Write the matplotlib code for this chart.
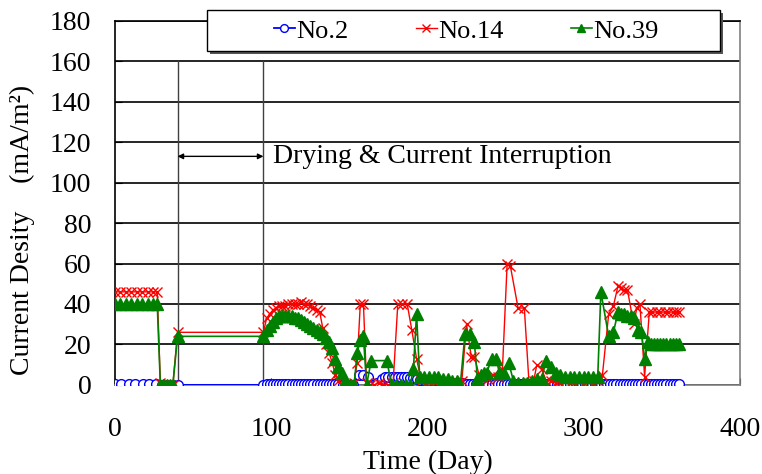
import matplotlib
matplotlib.use('Agg')
import matplotlib.pyplot as plt
from matplotlib.patches import Rectangle

plt.rcParams['font.family'] = ['Liberation Serif', 'Noto Sans CJK JP', 'DejaVu Serif']

# No.2 (blue circles)
d2 = [
    0, 4, 9, 13, 18, 22, 26, 30, 33, 37, 40,
    95, 97, 99, 101, 103, 105, 107, 109, 111, 113,
    115, 117, 119, 121, 123, 125, 127, 129, 131, 133,
    135, 137, 139, 141, 143,
    146, 149, 152, 156, 159, 162, 165, 168, 171,
    173, 175, 177, 179, 181, 183, 185, 187, 189, 191,
    193, 195, 198, 201, 204, 207, 210, 213, 216, 219, 222,
    225, 227, 229, 231, 233, 235, 237, 239, 241, 243,
    245, 247, 249, 251, 253, 255, 257, 259, 261, 263,
    265, 267, 269, 271, 273, 275, 277, 279, 281, 283,
    285, 287, 289, 291, 293, 295, 297, 299, 301, 303,
    305, 307, 309, 311, 313, 315, 317, 319, 321, 323,
    325, 327, 329, 331, 333, 335, 337, 339, 341, 343,
    345, 347, 349, 351, 353, 355, 357, 359, 361,
]
v2 = [
    0.5, 0.5, 0.5, 0.5, 0.5, 0.5, 0.5, 0, 0, 0, 0,
    0, 0.5, 0.5, 0.5, 0.5, 0.5, 0.5, 0.5, 0.5, 0.5,
    0.5, 0.5, 0.5, 0.5, 0.5, 0.5, 0.5, 0.5, 0.5, 0.5,
    0.5, 0.5, 0.5, 0.5, 0.5,
    0, 0, 0, 5, 5, 4, 0, 1, 3,
    4, 4, 4, 4, 4, 4, 4, 4, 3.5, 3.5,
    3, 2.5, 2.5, 2.5, 2.5, 2.5, 1.5, 1.5, 1, 1, 1,
    0.5, 0.5, 0.5, 0.5, 0.5, 0.5, 0.5, 0.5, 0.5, 0.5,
    0.5, 0.5, 0.5, 0.5, 0.5, 0.5, 0.3, 0.3, 0.3, 0.3,
    0.3, 0.3, 0.3, 0.3, 0.3, 0.3, 0.3, 0.3, 0.3, 0.3,
    0.3, 0.3, 0.3, 0.3, 0.3, 0.3, 0.3, 0.3, 0.3, 0.3,
    0.3, 0.3, 0.3, 0.3, 0.3, 0.3, 0.3, 0.3, 0.3, 0.3,
    0.3, 0.3, 0.3, 0.3, 0.3, 0.3, 0.3, 0.3, 0.3, 0.3,
    0.3, 0.3, 0.3, 0.3, 0.3, 0.3, 0.3, 0.3, 0.3,
]

# No.14 (red crosses)
d14 = [
    0, 3, 7, 10, 14, 17, 21, 24, 27,
    29, 31, 33, 35, 37, 40,
    95, 97, 99, 101, 103, 105, 107, 109, 111, 113,
    115, 117, 119, 121, 123, 125, 127, 129, 131, 133,
    135, 137, 139, 141, 143, 145, 147, 149, 151, 153,
    155, 157, 159, 161, 163, 166, 169, 172, 175, 178,
    181, 184, 187, 190, 193, 196, 199, 202, 205, 208,
    211, 214, 217, 220, 222, 225, 228, 230, 233, 236,
    239, 242, 245, 248, 251, 253, 258, 262, 265, 268,
    270, 273, 276, 279, 282, 285, 288, 291, 294, 297,
    300, 303, 306, 309, 312, 316, 319, 322, 324, 326,
    328, 332, 334, 336, 339, 342, 344, 347, 349, 352,
    354, 357, 359, 361,
]
v14 = [
    46, 46, 46, 46, 46, 46, 46, 46, 46,
    1, 0, 0, 0, 0, 26,
    26, 33, 35, 37, 38, 39, 39, 39, 40, 40,
    40, 40, 41, 40, 40, 39, 38, 37, 36, 28,
    20, 16, 11, 5, 2, 0, 0, 0, 0, 1,
    11, 40, 40, 1, 0, 0, 1, 0, 0, 1,
    40, 40, 40, 27, 13, 2, 1, 1, 1, 1,
    1, 1, 1, 1, 2, 30, 14, 14, 5, 3,
    3, 5, 4, 8, 60, 59, 38, 38, 1, 2,
    10, 8, 2, 2, 1, 1, 2, 1, 1, 2,
    1, 2, 1, 2, 5, 35, 39, 49, 48, 47,
    47, 30, 38, 40, 4, 36, 36, 36, 36, 36,
    36, 36, 36, 36,
]

# No.39 (green triangles)
d39 = [
    0, 3, 7, 10, 14, 17, 21, 24, 27,
    29, 31, 33, 35, 37, 40,
    95, 97, 99, 101, 103, 105, 107, 109, 111, 113,
    115, 117, 119, 121, 123, 125, 127, 129, 131, 133,
    135, 137, 139, 141, 143, 145, 147, 149, 151, 153,
    155, 157, 159, 161, 164, 174, 177, 180, 183, 186,
    189, 191, 193, 195, 198, 201, 204, 207, 210, 213,
    216, 219, 221, 224, 227, 230, 232, 234, 236, 238,
    241, 244, 246, 249, 252, 255, 258, 261, 264, 267,
    270, 273, 276, 279, 282, 285, 288, 291, 294, 297,
    300, 303, 306, 309, 311, 316, 319, 322, 324, 326,
    328, 330, 332, 335, 337, 339, 341, 343, 345, 347,
    349, 351, 353, 355, 357, 359, 361,
]
v39 = [
    40, 40, 40, 40, 40, 40, 40, 40, 40,
    0, 0, 0, 0, 0, 24,
    24, 27, 29, 31, 33, 34, 34, 34, 34, 34,
    33, 33, 32, 31, 30, 29, 28, 27, 26, 25,
    23, 21, 18, 13, 9, 6, 2, 0, 0, 0,
    16, 22, 24, 0, 12, 12, 0, 0, 0, 0,
    0, 8, 35, 4, 4, 4, 4, 4, 3, 3,
    2, 2, 0, 25, 25, 21, 3, 5, 6, 6,
    13, 13, 6, 6, 11, 2, 1, 1, 1, 2,
    3, 3, 12, 9, 6, 5, 4, 4, 4, 4,
    4, 4, 4, 4, 46, 24, 26, 36, 35, 35,
    34, 34, 33, 27, 26, 13, 21, 20, 20, 20,
    20, 20, 20, 20, 20, 20, 20,
]

# drying / current interruption period
dry_start, dry_end = 40, 95

fig = plt.figure(figsize=(7.62, 4.74), dpi=100)
ax = fig.add_axes([0.151, 0.188, 0.820, 0.768])

ax.plot(d2, v2, color='#0000ff', lw=1.3, marker='o', ms=7, mfc='white',
        mec='#0000ff', mew=1.0, label='No.2', zorder=3)
ax.plot(d14, v14, color='#ff0000', lw=1.0, marker='x', ms=7, mew=1.0,
        label='No.14', zorder=4)
ax.plot(d39, v39, color='#008000', lw=1.2, marker='^', ms=8, mec='#008000',
        label='No.39', zorder=5)

ax.plot([dry_start, dry_start], [0, 160], color='#404040', lw=1.0, zorder=2)
ax.plot([dry_end, dry_end], [0, 160], color='#404040', lw=1.0, zorder=2)
ax.annotate('', xy=(dry_start, 113), xytext=(dry_end, 113),
            arrowprops=dict(arrowstyle='<|-|>', color='k', lw=1.0,
                            mutation_scale=8, shrinkA=0, shrinkB=0))
ax.text(dry_end + 6, 113, 'Drying & Current Interruption', fontsize=20,
        va='center', ha='left')

ax.set_xlim(0, 400)
ax.set_ylim(0, 180)
ax.set_xticks([0, 100, 200, 300, 400])
ax.set_yticks(range(0, 181, 20))
ax.yaxis.grid(True, color='k', lw=1.2)
ax.set_axisbelow(True)
ax.tick_params(direction='in', length=5, labelsize=20)
ax.tick_params(axis='x', pad=23)
ax.tick_params(axis='y', pad=17)
for s in ['left', 'top']:
    ax.spines[s].set_color('k')
    ax.spines[s].set_linewidth(1.2)
for s in ['right', 'bottom']:
    ax.spines[s].set_color('#808080')
    ax.spines[s].set_linewidth(1.2)

ax.set_xlabel('Time (Day)', fontsize=20, labelpad=6)
ax.set_ylabel('Current Desity\u3000(mA/m\u00b2)', fontsize=20)
ax.yaxis.set_label_coords(-0.128, 0.426)

# legend box with a drop shadow, as in the original
fig.patches.append(Rectangle((0.2756, 0.8861), 0.673, 0.0865, transform=fig.transFigure,
                             facecolor='#555555', edgecolor='none', zorder=8))
fig.patches.append(Rectangle((0.2717, 0.8924), 0.673, 0.0865, transform=fig.transFigure,
                             facecolor='white', edgecolor='k', lw=1.0, zorder=9))
leg = fig.legend(loc='center left', bbox_to_anchor=(0.359, 0.935), ncol=3,
                 fontsize=19, frameon=False, markerscale=0.8, handlelength=0.8,
                 handletextpad=0.05, columnspacing=2.55, borderpad=0,
                 borderaxespad=0)
leg.set_zorder(10)

fig.savefig('out.png', dpi=100)
